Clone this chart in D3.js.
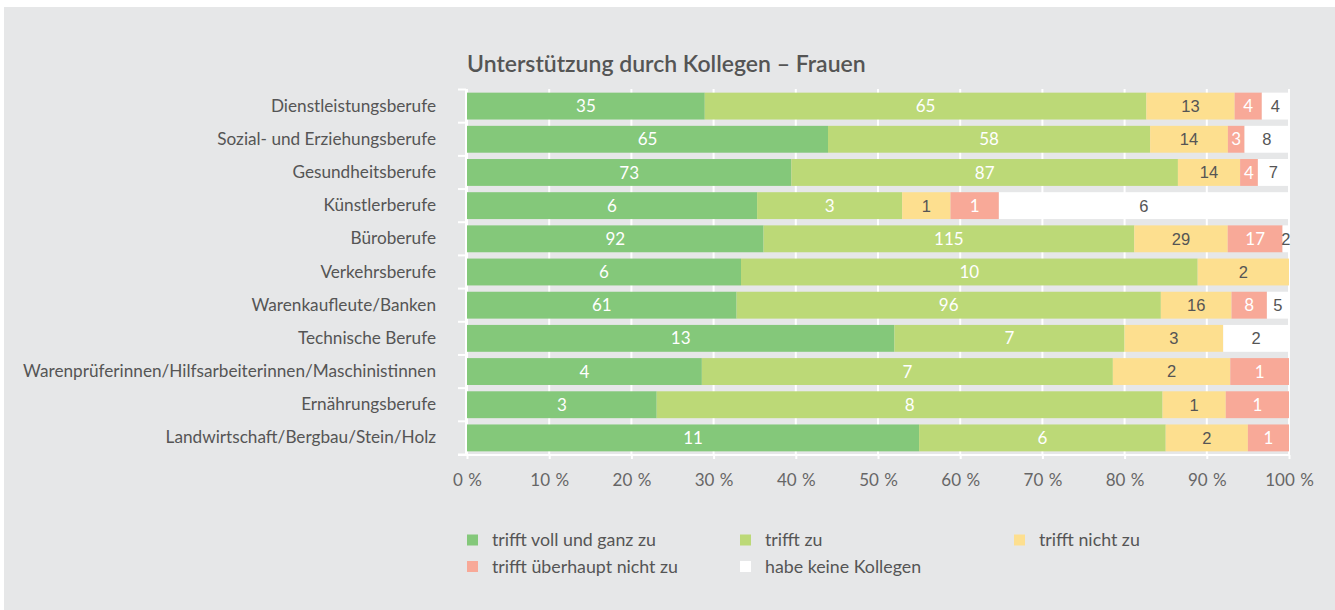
<!DOCTYPE html>
<html><head><meta charset="utf-8">
<script src="https://cdn.jsdelivr.net/npm/d3@7"></script>
<style>
html,body{margin:0;padding:0;background:#fff;}
svg{display:block;}
</style></head>
<body>
<script>
const title = "Unterstützung durch Kollegen – Frauen";
const categories = ["Dienstleistungsberufe","Sozial- und Erziehungsberufe","Gesundheitsberufe","Künstlerberufe","Büroberufe","Verkehrsberufe","Warenkaufleute/Banken","Technische Berufe","Warenprüferinnen/Hilfsarbeiterinnen/Maschinistinnen","Ernährungsberufe","Landwirtschaft/Bergbau/Stein/Holz"];
const seriesNames = ["trifft voll und ganz zu","trifft zu","trifft nicht zu","trifft überhaupt nicht zu","habe keine Kollegen"];
const seriesColors = ["#84c87a","#bcd977","#fddf8f","#f8a998","#ffffff"];
const vollUndGanz = [35,65,73,6,92,6,61,13,4,3,11];
const triffZu     = [65,58,87,3,115,10,96,7,7,8,6];
const nichtZu     = [13,14,14,1,29,2,16,3,2,1,2];
const ueberhauptNicht = [4,3,4,1,17,0,8,0,1,1,1];
const keineKollegen   = [4,8,7,6,2,0,5,2,0,0,0];
const xTicks = [0,10,20,30,40,50,60,70,80,90,100];

const W = 1335, H = 610;
const svg = d3.select("body").append("svg").attr("width", W).attr("height", H);
svg.append("rect").attr("x",4).attr("y",7).attr("width",W-4).attr("height",H-7).attr("fill","#e6e7e8");

const x = d3.scaleLinear().domain([0,100]).range([467,1289]);
const y = d3.scaleBand().domain(categories).range([89.5,454.5]).paddingInner(0.19).paddingOuter(0.095);

const allSeries = [vollUndGanz, triffZu, nichtZu, ueberhauptNicht, keineKollegen];
const rows = categories.map((c,i)=>{
  const o = {cat:c};
  let tot = 0;
  seriesNames.forEach((s,j)=>{ o[s]=allSeries[j][i]; tot += allSeries[j][i]; });
  seriesNames.forEach(s=>{ o["p_"+s] = o[s]/tot*100; });
  return o;
});
const stack = d3.stack().keys(seriesNames.map(s=>"p_"+s));
const stacked = stack(rows);

// gridlines
svg.append("g").selectAll("line").data(xTicks).join("line")
  .attr("x1",d=>x(d)).attr("x2",d=>x(d)).attr("y1",89).attr("y2",455)
  .attr("stroke","#fff").attr("stroke-width",2);

// title
svg.append("text").attr("x",467).attr("y",72).text(title)
  .attr("font-family","Lato, sans-serif").attr("font-weight","600").attr("font-size",23).attr("fill","#555");

// bars
const gBars = svg.append("g");
stacked.forEach((layer,j)=>{
  gBars.append("g").selectAll("rect").data(layer).join("rect")
    .attr("x",d=>x(d[0])).attr("width",d=>x(d[1])-x(d[0]))
    .attr("y",d=>y(d.data.cat)).attr("height",y.bandwidth())
    .attr("fill",seriesColors[j]);
});
// labels
stacked.forEach((layer,j)=>{
  const dark = (j===2 || j===4);
  gBars.append("g").selectAll("text").data(layer.filter(d=>d.data[seriesNames[j]]>0)).join("text")
    .attr("x",d=>(x(d[0])+x(d[1]))/2)
    .attr("y",d=>y(d.data.cat)+y.bandwidth()/2)
    .attr("dy","0.36em").attr("text-anchor","middle")
    .attr("font-family", dark ? "'Liberation Sans', Arial, sans-serif" : "Lato, sans-serif")
    .attr("font-size", dark ? 16.5 : 17)
    .attr("fill", dark ? "#555" : "#fff")
    .text(d=>d.data[seriesNames[j]]);
});

// y axis
const yAxis = d3.axisLeft(y).tickSize(0).tickPadding(31);
const gy = svg.append("g").attr("transform","translate(467,0)").call(yAxis);
gy.select(".domain").remove();
gy.selectAll("text").attr("font-family","Lato, sans-serif").attr("font-size",17.2).attr("fill","#555");
// band boundary ticks
const bounds = categories.map(c=>y(c)-y.step()*y.paddingInner()/2).concat([y(categories[categories.length-1])+y.bandwidth()+y.step()*y.paddingInner()/2]);
svg.append("line").attr("x1",466).attr("x2",466).attr("y1",bounds[0]).attr("y2",455).attr("stroke","#fff").attr("stroke-width",2);
svg.append("g").selectAll("line").data(bounds).join("line")
  .attr("x1",458).attr("x2",466).attr("y1",d=>d).attr("y2",d=>d).attr("stroke","#fff").attr("stroke-width",2);

// x axis
const xAxis = d3.axisBottom(x).tickValues(xTicks).tickFormat(d=>d+" %").tickSize(4).tickPadding(15);
const gx = svg.append("g").attr("transform","translate(0,455)").call(xAxis);
gx.select(".domain").attr("stroke","#fff").attr("stroke-width",2).attr("d","M458,0H1290");
gx.selectAll(".tick line").attr("stroke","#fff").attr("stroke-width",2);
gx.selectAll("text").attr("font-family","Lato, sans-serif").attr("font-size",17).attr("fill","#666").attr("word-spacing","1px");

// legend
const legPos = [[467,540],[740,540],[1014,540],[467,566.5],[740,566.5]];
const gl = svg.append("g");
seriesNames.forEach((s,j)=>{
  const [lx,ly] = legPos[j];
  gl.append("rect").attr("x",lx).attr("y",ly-5.5).attr("width",11).attr("height",11).attr("fill",seriesColors[j]);
  gl.append("text").attr("x",lx+25).attr("y",ly).attr("dy","0.35em").text(s)
    .attr("font-family","Lato, sans-serif").attr("font-size",17.8).attr("fill","#555");
});
</script>
</body></html>
